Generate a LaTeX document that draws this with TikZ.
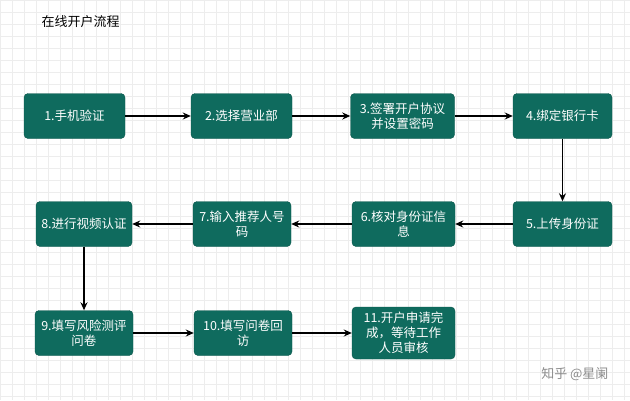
\documentclass[tikz,border=0pt]{standalone}
\usepackage{fontspec}
\newfontfamily\cjk{Noto Sans CJK SC}
\usetikzlibrary{arrows.meta}
\definecolor{boxg}{HTML}{0F6B5E}
\tikzset{
 stepbox/.style={draw=boxg!80!black,fill=boxg,rounded corners=4pt,text=white,font=\cjk\fontsize{12.5}{15}\selectfont,align=center,minimum height=45pt,inner sep=2pt},
 conn/.style={-{Stealth[length=8pt,width=7pt]},line width=1.4pt,black},
}
\begin{document}
\begin{tikzpicture}[x=1pt,y=-1pt]
\useasboundingbox (0,0) rectangle (630,400);
\fill[white] (0,0) rectangle (630,400);
\draw[black!7,line width=0.4pt,step=12pt] (0,0) grid (630,400);
\node[anchor=west,font=\cjk\fontsize{13}{15}\selectfont] (title) at (38,22) {在线开户流程};
\node[stepbox,minimum width=101pt] (b1) at (74.5,116) {1.手机验证};
\node[stepbox,minimum width=101pt] (b2) at (241.5,116) {2.选择营业部};
\node[stepbox,minimum width=104pt,text width=100pt] (b3) at (402.5,116) {3.签署开户协议\\并设置密码};
\node[stepbox,minimum width=99pt] (b4) at (562.5,116) {4.绑定银行卡};
\node[stepbox,minimum width=99pt] (b5) at (562.5,224) {5.上传身份证};
\node[stepbox,minimum width=103pt,text width=99pt] (b6) at (403.5,224) {6.核对身份证信\\息};
\node[stepbox,minimum width=96pt,text width=94pt] (b7) at (242,224) {7.输入推荐人号\\码};
\node[stepbox,minimum width=96pt] (b8) at (84,224) {8.进行视频认证};
\node[stepbox,minimum width=96pt,text width=94pt] (b9) at (84,333) {9.填写风险测评\\问卷};
\node[stepbox,minimum width=98pt,text width=94pt] (b10) at (243,333) {10.填写问卷回\\访};
\node[stepbox,minimum width=103pt,minimum height=52pt,text width=84pt] (b11) at (403.5,333) {11.开户申请完\\成，等待工作\\人员审核};
\draw[conn] (b1) -- (b2);
\draw[conn] (b2) -- (b3);
\draw[conn] (b3) -- (b4);
\draw[conn] (b4) -- (b5);
\draw[conn] (b5) -- (b6);
\draw[conn] (b6) -- (b7);
\draw[conn] (b7) -- (b8);
\draw[conn] (b8) -- (b9);
\draw[conn] (b9) -- (b10);
\draw[conn] (b10) -- (b11);
\node[anchor=east,text=black!45,font=\cjk\fontsize{13}{15}\selectfont] (wm) at (612,374) {知乎 @星阑};
\end{tikzpicture}
\end{document}
